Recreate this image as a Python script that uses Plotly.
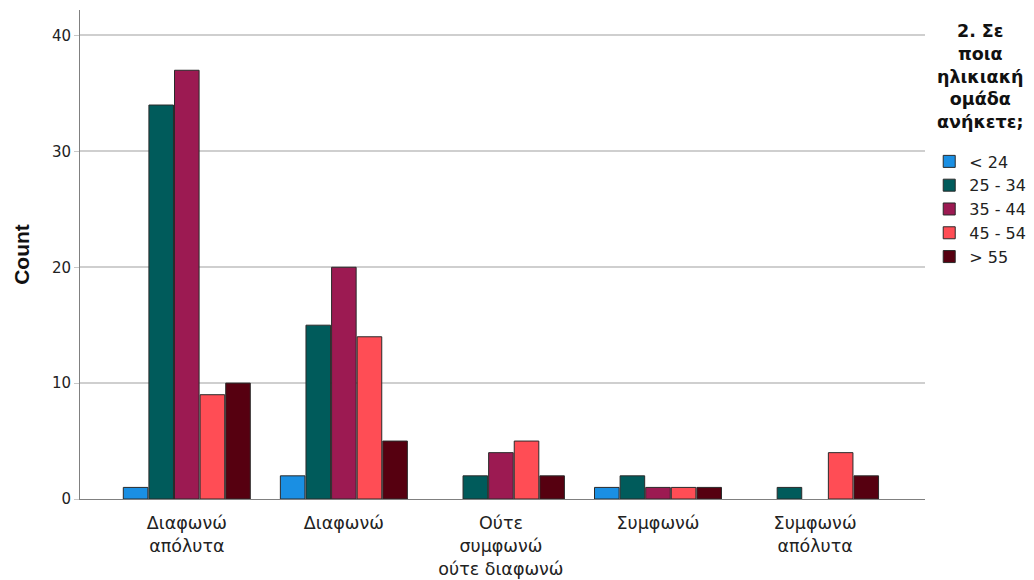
import plotly.graph_objects as go

categories = ["Διαφωνώ<br>απόλυτα", "Διαφωνώ", "Ούτε<br>συμφωνώ<br>ούτε διαφωνώ",
              "Συμφωνώ", "Συμφωνώ<br>απόλυτα"]
age_groups = ["< 24", "25 - 34", "35 - 44", "45 - 54", "> 55"]
counts = {
    "< 24":    [1, 2, 0, 1, 0],
    "25 - 34": [34, 15, 2, 2, 1],
    "35 - 44": [37, 20, 4, 1, 0],
    "45 - 54": [9, 14, 5, 1, 4],
    "> 55":    [10, 5, 2, 1, 2],
}
colors = ["#1a8fe3", "#005b5b", "#9c1a52", "#ff4d55", "#560010"]
legend_title = "2. Σε<br>ποια<br>ηλικιακή<br>ομάδα<br>ανήκετε;"

fig = go.Figure()
for name, col in zip(age_groups, colors):
    vals = counts[name]
    fig.add_trace(go.Bar(
        x=categories, y=vals, name=name,
        marker=dict(color=col,
                    line=dict(color="#2a2a2a", width=[0 if v == 0 else 1 for v in vals])),
    ))

# legend title drawn as annotation so each line can be centred
fig.add_annotation(
    text="<b>" + legend_title + "</b>", xref="paper", yref="paper",
    x=1.066, y=0.982, xanchor="center", yanchor="top", showarrow=False,
    align="center", font=dict(family="DejaVu Sans", size=17.5, color="#111"),
)

# page body has an 8px margin, so the figure is 8px smaller than the window
fig.update_layout(
    width=1026, height=572,
    paper_bgcolor="white", plot_bgcolor="white",
    margin=dict(l=72, r=109, t=2, b=81, autoexpand=False),
    barmode="group", bargap=0.185, bargroupgap=0.04,
    font=dict(family="DejaVu Sans, sans-serif", color="#222"),
    legend=dict(
        x=1.005, xanchor="left", y=0.725, yanchor="top",
        font=dict(size=16, color="#222"),
        itemwidth=30, tracegroupgap=0,
    ),
    xaxis=dict(
        range=[-0.68, 4.7], showline=True, linecolor="#808080", linewidth=1,
        ticks="", tickfont=dict(size=17.5, color="#222"), showgrid=False,
        automargin=False, ticklabelstandoff=8,
    ),
    yaxis=dict(
        range=[0, 42.2], tickvals=[0, 10, 20, 30, 40],
        showline=True, linecolor="#808080", linewidth=1,
        ticks="outside", ticklen=5, tickcolor="#c8c8c8",
        showgrid=True, gridcolor="#cfcfcf", gridwidth=1.5, zeroline=False,
        tickfont=dict(size=15, color="#222"), automargin=False,
        title=dict(text="<b>Count</b>",
                   font=dict(family="Liberation Sans, Arial", size=21, color="#111"),
                   standoff=16),
    ),
)

fig.write_html("out.html")
